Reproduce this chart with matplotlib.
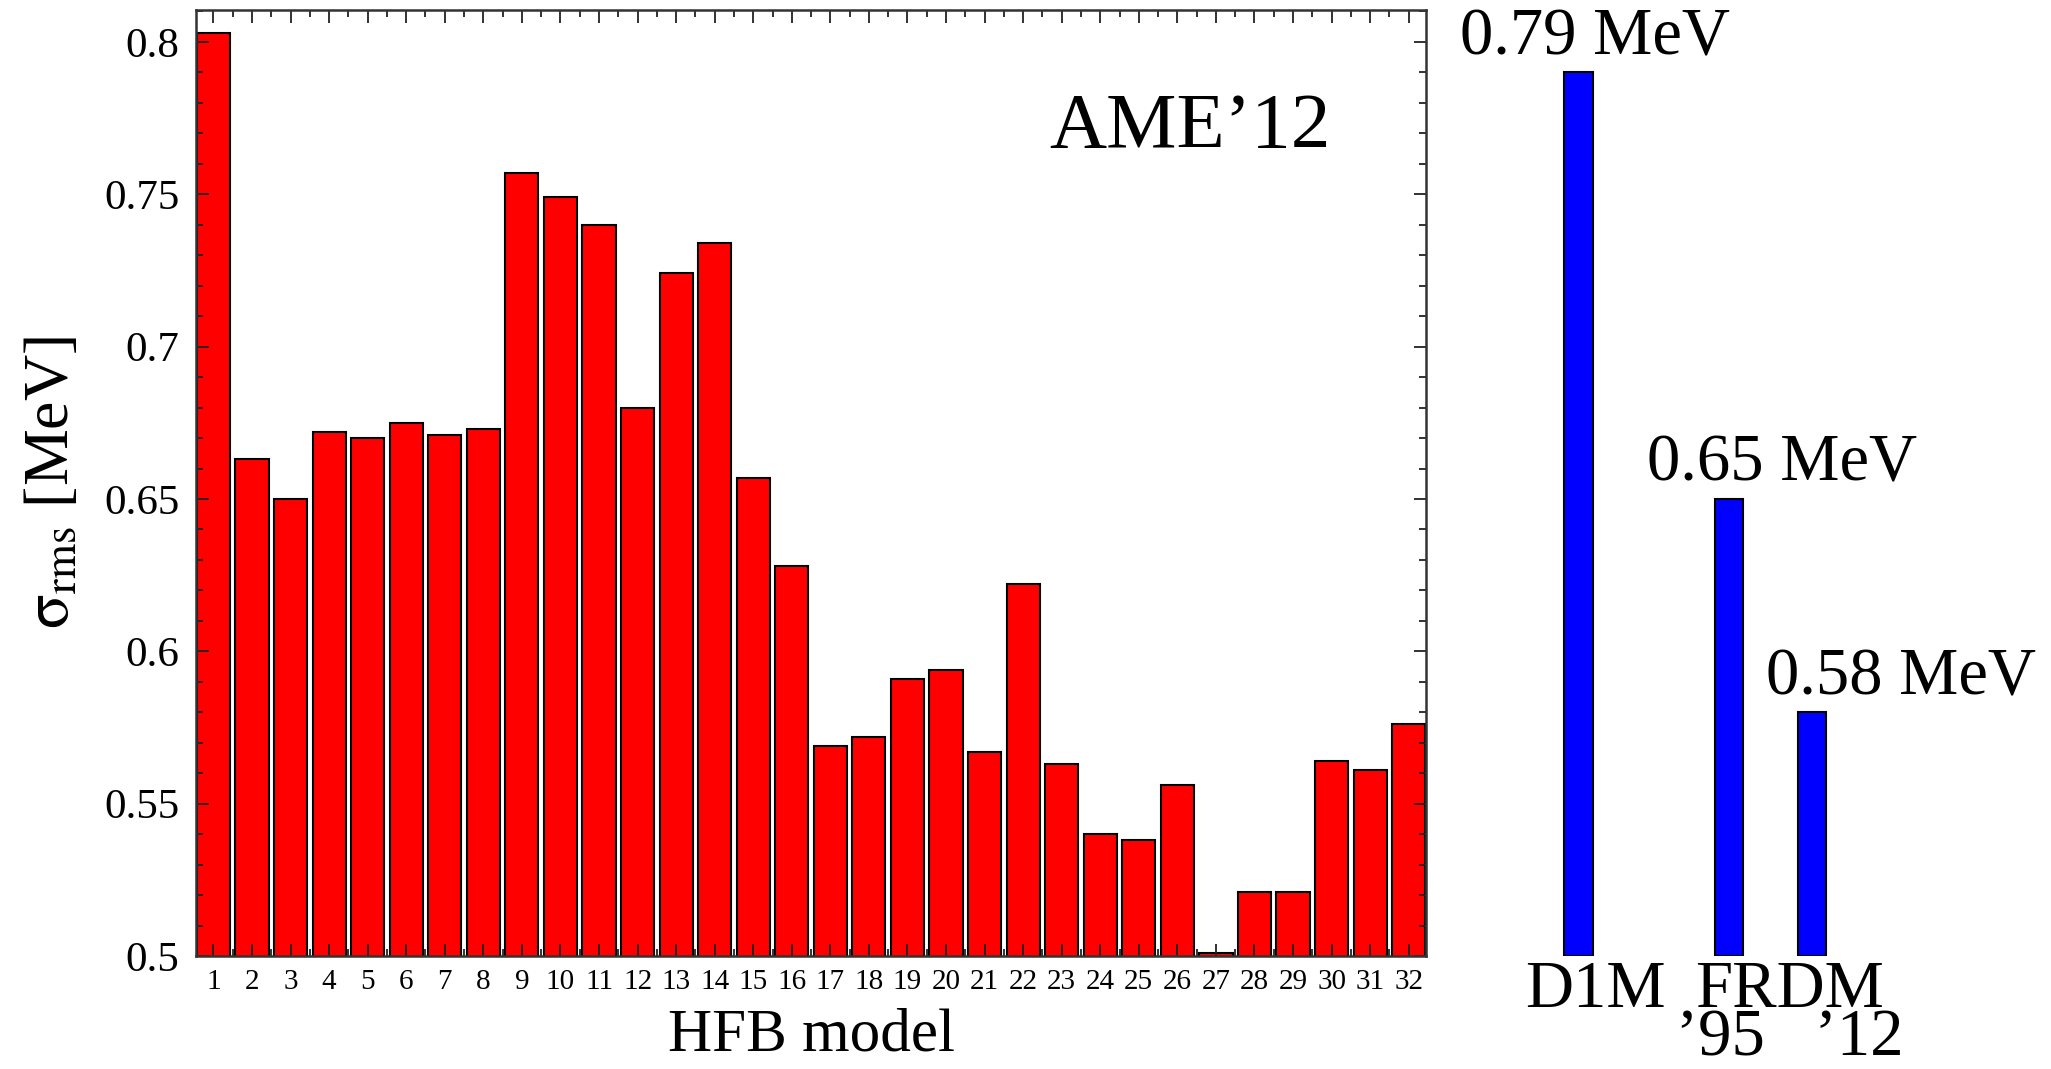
import numpy as np
import matplotlib.pyplot as plt
from matplotlib.ticker import MultipleLocator

# rms deviation for each HFB model (AME'12 masses)
models = np.arange(1, 33)
sigma_rms = [0.803, 0.663, 0.650, 0.672, 0.670, 0.675, 0.671, 0.673,
             0.757, 0.749, 0.740, 0.680, 0.724, 0.734, 0.657, 0.628,
             0.569, 0.572, 0.591, 0.594, 0.567, 0.622, 0.563, 0.540,
             0.538, 0.556, 0.501, 0.521, 0.521, 0.564, 0.561, 0.576]

# other mass models, drawn on the same scale
other_names = ["D1M", "FRDM '95", "FRDM '12"]
other_sigma = [0.79, 0.65, 0.58]

plt.rcParams["font.family"] = ["Liberation Serif", "DejaVu Serif"]
plt.rcParams["mathtext.fontset"] = "stix"

fig = plt.figure(figsize=(20.51, 10.69), dpi=100)
ax = fig.add_axes([0.0956, 0.1057, 0.5997, 0.885])

ax.bar(models, sigma_rms, width=0.86, color="#ff0000", edgecolor="black",
       linewidth=1.5)
ax.set_xlim(0.55, 32.45)
ax.set_ylim(0.5, 0.8105)
ax.set_xticks(models)
ax.set_xticklabels([str(m) for m in models])
ax.xaxis.set_minor_locator(MultipleLocator(0.5))
ax.yaxis.set_minor_locator(MultipleLocator(0.01))
ax.set_yticks([0.5, 0.55, 0.6, 0.65, 0.7, 0.75, 0.8])
ax.set_yticklabels(["0.5", "0.55", "0.6", "0.65", "0.7", "0.75", "0.8"])

ax.tick_params(axis="both", which="both", direction="in", top=True, right=True,
               color="#222222", width=1.3)
ax.tick_params(axis="both", which="major", length=9)
ax.tick_params(axis="both", which="minor", length=5)
ax.tick_params(axis="x", which="major", labelsize=21, pad=9)
ax.tick_params(axis="y", which="major", labelsize=31, pad=12)
for sp in ax.spines.values():
    sp.set_linewidth(1.8)
    sp.set_color("#333333")

ax.set_xlabel("HFB model", fontsize=44)
ax.xaxis.set_label_coords(0.5, -0.055)
ax.set_ylabel(r"$\mathrm{σ}_{\mathrm{rms}}$ [MeV]", fontsize=46)
ax.yaxis.set_label_coords(-0.093, 0.5)

ax.text(0.808, 0.875, "AME\u201912", transform=ax.transAxes, fontsize=57,
        ha="center", va="center")

# right panel without frame, same y scale
ax2 = fig.add_axes([0.7015, 0.1057, 0.2985, 0.885])
ax2.set_xlim(0.07, 4.14)
ax2.set_ylim(0.5, 0.8105)
ax2.axis("off")

bar_pos = [1.0, 2.0, 2.55]
ax2.bar(bar_pos, [v - 0.5 for v in other_sigma], bottom=0.5, width=0.19,
        color="#0000ff", edgecolor="black", linewidth=1.5)

value_x = [1.11, 2.35, 3.14]
for x, v in zip(value_x, other_sigma):
    ax2.annotate(f"{v:.2f} MeV", xy=(x, v), xytext=(0, 3),
                 textcoords="offset points", ha="center", va="bottom",
                 fontsize=48)

# model names under the bars
ax2.annotate("D1M", xy=(1.11, 0.5), xytext=(0, -3), textcoords="offset points",
             ha="center", va="top", fontsize=48, annotation_clip=False)
ax2.annotate("FRDM\n\u201995   \u201912", xy=(2.40, 0.5), xytext=(0, -3),
             textcoords="offset points", ha="center", va="top", fontsize=48,
             multialignment="center", linespacing=0.74, annotation_clip=False)

fig.savefig("out.png", dpi=100)
